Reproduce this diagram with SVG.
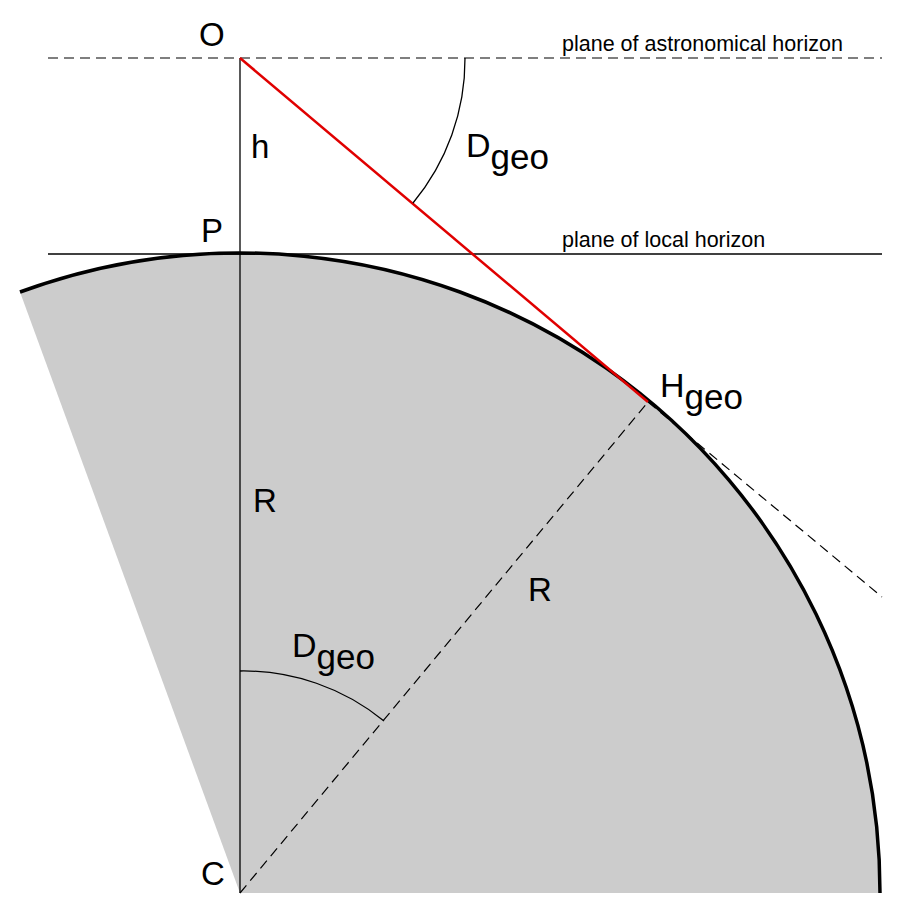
<svg xmlns="http://www.w3.org/2000/svg" width="920" height="916" viewBox="0 0 920 916">
<style>
text{font-family:"Liberation Sans",Arial,sans-serif;fill:#000}
.big{font-size:33px}
.sm{font-size:21.5px}
.thin{stroke:#000;stroke-width:1.3;fill:none}
.dash{stroke:#000;stroke-width:1.2;fill:none;stroke-dasharray:10,6}
</style>
<rect width="920" height="916" fill="#fff"/>
<g id="earth">
<path d="M240,893 L20,292 A640,640 0 0 1 880,893 Z" fill="#cccccc"/>
<path d="M20,292 A640,640 0 0 1 880,893" fill="none" stroke="#000" stroke-width="3.5"/>
</g>
<g id="connectors">
<line class="dash" x1="48" y1="58" x2="882" y2="58"/>
<line class="thin" x1="48" y1="254" x2="882" y2="254"/>
<line class="thin" x1="240" y1="58" x2="240" y2="893"/>
<line class="dash" x1="240" y1="893" x2="648" y2="402"/>
<line class="dash" x1="648" y1="402" x2="882" y2="597"/>
<line x1="240" y1="58" x2="648" y2="402" stroke="#e00000" stroke-width="2.5"/>
<path class="thin" d="M465,58 A225,225 0 0 1 413,203"/>
<path class="thin" d="M240,671 A222,222 0 0 1 384,721"/>
</g>
<g id="labels">
<text class="big" x="199" y="46">O</text>
<text class="big" x="251" y="158">h</text>
<text class="big" x="201" y="242">P</text>
<text class="big" x="253" y="512">R</text>
<text class="big" x="528" y="601">R</text>
<text class="big" x="201" y="885">C</text>
<text class="big" x="466" y="157"><tspan font-size="34">D</tspan><tspan dy="12" font-size="35">geo</tspan></text>
<text class="big" x="660" y="397"><tspan font-size="34">H</tspan><tspan dy="12" font-size="35">geo</tspan></text>
<text class="big" x="292" y="657"><tspan font-size="34">D</tspan><tspan dy="12" font-size="35">geo</tspan></text>
<text class="sm" x="562" y="51">plane of astronomical horizon</text>
<text class="sm" x="562" y="247">plane of local horizon</text>
</g>
</svg>
